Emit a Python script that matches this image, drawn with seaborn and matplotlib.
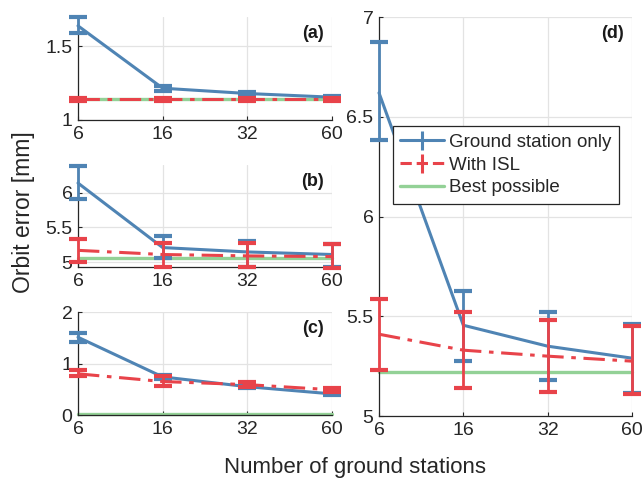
import numpy as np
import pandas as pd
import matplotlib
matplotlib.use("Agg")
import matplotlib.pyplot as plt
import seaborn as sns
from matplotlib.lines import Line2D

sns.set_theme(style="white")
plt.rcParams["font.family"] = ["Liberation Sans", "DejaVu Sans"]

stations = ["6", "16", "32", "60"]

# (a)
a_gs = [1.64, 1.216, 1.18, 1.155]
a_gs_lo = [1.59, 1.200, 1.17, 1.145]
a_gs_hi = [1.70, 1.232, 1.19, 1.165]
a_isl = [1.14, 1.14, 1.14, 1.14]
a_isl_lo = [1.128, 1.128, 1.128, 1.128]
a_isl_hi = [1.152, 1.152, 1.152, 1.152]
a_best = 1.14

# (b)
b_gs = [6.14, 5.21, 5.147, 5.11]
b_gs_lo = [5.91, 5.06, 4.93, 4.93]
b_gs_hi = [6.39, 5.37, 5.31, 5.26]
b_isl = [5.17, 5.11, 5.09, 5.08]
b_isl_lo = [5.00, 4.93, 4.93, 4.92]
b_isl_hi = [5.33, 5.27, 5.27, 5.26]
b_best = 5.06

# (c)
c_gs = [1.51, 0.74, 0.55, 0.41]
c_gs_lo = [1.42, 0.70, 0.52, 0.38]
c_gs_hi = [1.60, 0.78, 0.58, 0.44]
c_isl = [0.80, 0.65, 0.59, 0.49]
c_isl_lo = [0.75, 0.56, 0.54, 0.45]
c_isl_hi = [0.87, 0.75, 0.64, 0.53]
c_best = 0.02

# (d)
d_gs = [6.62, 5.455, 5.35, 5.29]
d_gs_lo = [6.385, 5.275, 5.18, 5.115]
d_gs_hi = [6.875, 5.625, 5.52, 5.46]
d_isl = [5.41, 5.33, 5.30, 5.275]
d_isl_lo = [5.23, 5.14, 5.12, 5.11]
d_isl_hi = [5.585, 5.52, 5.48, 5.45]
d_best = 5.22

BLUE = "#4f84b4"
RED = "#e8434a"
GREEN = "#93d196"

fig = plt.figure(figsize=(6.43, 4.79), dpi=100)
ax_a = fig.add_axes([0.1213, 0.7495, 0.3950, 0.2150])
ax_b = fig.add_axes([0.1213, 0.4426, 0.3950, 0.2129])
ax_c = fig.add_axes([0.1213, 0.1336, 0.3950, 0.2150])
ax_d = fig.add_axes([0.5894, 0.1315, 0.3935, 0.8330])

panels = [
    (ax_a, "(a)", a_gs, a_gs_lo, a_gs_hi, a_isl, a_isl_lo, a_isl_hi, a_best, (1.0, 1.7), [1, 1.5]),
    (ax_b, "(b)", b_gs, b_gs_lo, b_gs_hi, b_isl, b_isl_lo, b_isl_hi, b_best, (4.93, 6.4), [5, 5.5, 6]),
    (ax_c, "(c)", c_gs, c_gs_lo, c_gs_hi, c_isl, c_isl_lo, c_isl_hi, c_best, (0, 2), [0, 1, 2]),
    (ax_d, "(d)", d_gs, d_gs_lo, d_gs_hi, d_isl, d_isl_lo, d_isl_hi, d_best, (5, 7), [5, 5.5, 6, 6.5, 7]),
]

x = np.arange(len(stations))
ISL_DASH = [7, 2.5, 1.5, 2.5]

for ax, tag, gs, gs_lo, gs_hi, isl, isl_lo, isl_hi, best, ylim, yticks in panels:
    df = pd.DataFrame({
        "idx": np.concatenate([x, x, x]),
        "err": np.concatenate([gs, isl, [best] * len(x)]),
        "series": ["Ground station only"] * 4 + ["With ISL"] * 4 + ["Best possible"] * 4,
    })
    # best possible baseline
    sns.lineplot(data=df[df.series == "Best possible"], x="idx", y="err", ax=ax,
                 color=GREEN, lw=2.4, zorder=2, clip_on=False, legend=False)
    # ground-station-only curve with min/max bars
    sns.lineplot(data=df[df.series == "Ground station only"], x="idx", y="err", ax=ax,
                 color=BLUE, lw=2.2, zorder=3, clip_on=False, legend=False)
    gs_arr = np.array(gs)
    ax.errorbar(x, gs_arr, yerr=[gs_arr - np.array(gs_lo), np.array(gs_hi) - gs_arr],
                fmt="none", ecolor=BLUE, elinewidth=2.0, capsize=6.5, capthick=3,
                zorder=3, clip_on=False)
    # with-ISL curve with min/max bars
    sns.lineplot(data=df[df.series == "With ISL"], x="idx", y="err", ax=ax,
                 color=RED, lw=2.2, zorder=4, clip_on=False, legend=False)
    ax.lines[-1].set_dashes(ISL_DASH)
    isl_arr = np.array(isl)
    ax.errorbar(x, isl_arr, yerr=[isl_arr - np.array(isl_lo), np.array(isl_hi) - isl_arr],
                fmt="none", ecolor=RED, elinewidth=2.0, capsize=6.5, capthick=3,
                zorder=4, clip_on=False)

    ax.set_xlim(0, 3)
    ax.set_ylim(*ylim)
    ax.set_xticks(x)
    ax.set_xticklabels(stations)
    ax.set_yticks(yticks)
    ax.set_yticklabels([f"{t:g}" for t in yticks])
    ax.set_xlabel("")
    ax.set_ylabel("")
    ax.grid(True, color="#e3e3e3", lw=0.9)
    ax.set_axisbelow(True)
    for side in ("top", "right"):
        ax.spines[side].set_visible(False)
    for side in ("left", "bottom"):
        ax.spines[side].set_color("#262626")
        ax.spines[side].set_linewidth(0.9)
    ax.tick_params(axis="both", which="both", direction="in", length=3, width=0.8,
                   labelsize=14, colors="#262626", pad=4, left=True, bottom=True)
    ax.annotate(tag, xy=(1, 1), xycoords="axes fraction", xytext=(-6, -6),
                textcoords="offset points", ha="right", va="top",
                fontsize=13, fontweight="bold", color="#1a1a1a")

# legend in panel (d)
h_gs = ax_d.errorbar([], [], yerr=[], color=BLUE, lw=2.2, capsize=6, capthick=3)
h_isl = ax_d.errorbar([], [], yerr=[], color=RED, lw=2.2, capsize=6, capthick=3, ls="--")
h_best = Line2D([], [], color=GREEN, lw=2.4)
leg = ax_d.legend([h_gs, h_isl, h_best], ["Ground station only", "With ISL", "Best possible"],
                  loc="upper left", bbox_to_anchor=(0.055, 0.726), fontsize=13.5,
                  frameon=True, fancybox=False, edgecolor="#262626", framealpha=1,
                  handlelength=2.3, handletextpad=0.3, borderpad=0.4, labelspacing=0.3,
                  borderaxespad=0)
leg.get_frame().set_linewidth(0.9)

fig.text(0.037, 0.557, "Orbit error [mm]", rotation=90, ha="center", va="center",
         fontsize=16.5, color="#262626")
fig.text(0.552, 0.023, "Number of ground stations", ha="center", va="center",
         fontsize=16, color="#262626")

fig.savefig("out.png", dpi=100)
